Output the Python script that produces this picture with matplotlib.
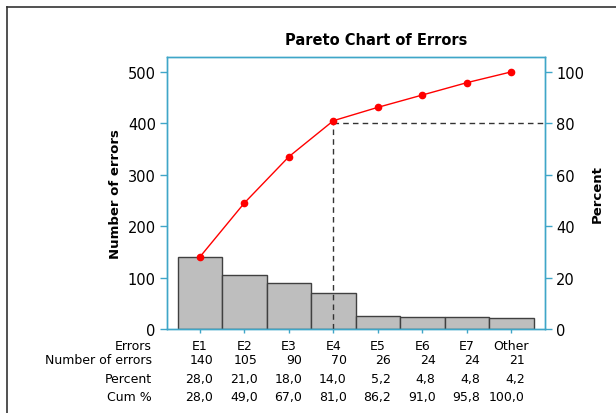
import matplotlib
matplotlib.use("Agg")
import matplotlib.pyplot as plt
from matplotlib.lines import Line2D
import matplotlib.transforms as mtrans
import numpy as np

errors = ["E1", "E2", "E3", "E4", "E5", "E6", "E7", "Other"]
counts = [140, 105, 90, 70, 26, 24, 24, 21]
percent = [28.0, 21.0, 18.0, 14.0, 5.2, 4.8, 4.8, 4.2]
cum_pct = [28.0, 49.0, 67.0, 81.0, 86.2, 91.0, 95.8, 100.0]
cutoff_pct = 80
cutoff_idx = 3

SPINE = "#3fa6c8"
plt.rcParams["font.family"] = ["DejaVu Sans"]

fig = plt.figure(figsize=(6.16, 4.14), dpi=100)
ax = fig.add_axes([0.271, 0.203, 0.614, 0.657])
x = np.arange(len(errors))

ax.bar(x, counts, width=1.0, color="#bebebe", edgecolor="#404040", linewidth=1.0, zorder=2)
ax.set_xlim(-0.74, 7.76)
total = sum(counts)
ax.set_ylim(0, total * 1.058)
ax.set_yticks([0, 100, 200, 300, 400, 500])

ax2 = ax.twinx()
ax2.set_ylim(0, 105.8)
ax2.set_yticks([0, 20, 40, 60, 80, 100])
ax2.plot(x, cum_pct, color="red", lw=1.0, marker="o", ms=4.5, zorder=4)
ax2.plot([x[cutoff_idx], x[cutoff_idx]], [0, cutoff_pct], ls=(0, (4, 3)), color="#333333", lw=1.0)
ax2.plot([x[cutoff_idx], 7.76], [cutoff_pct, cutoff_pct], ls=(0, (4, 3)), color="#333333", lw=1.0,
         clip_on=False)

for a in (ax, ax2):
    for s in a.spines.values():
        s.set_color(SPINE)
        s.set_linewidth(1.0)
    a.tick_params(axis="y", colors=SPINE, labelcolor="black", labelsize=10.5, length=5, width=1, pad=3)
ax.set_xticks(x)
ax.tick_params(axis="x", colors=SPINE, length=3, width=1, labelbottom=False)

ax.set_ylabel("Number of errors", fontsize=9.5, fontweight="bold", labelpad=4)
ax2.set_ylabel("Percent", fontsize=9.5, fontweight="bold", labelpad=5)
fig.text(0.61, 0.903, "Pareto Chart of Errors", ha="center", va="center",
         fontsize=10.5, fontweight="bold")

# table under the chart
tr = mtrans.blended_transform_factory(ax.transData, fig.transFigure)
row_y = [1 - 346 / 414, 1 - 361 / 414, 1 - 380 / 414, 1 - 398 / 414]
row_names = ["Errors", "Number of errors", "Percent", "Cum %"]
for name, yy in zip(row_names, row_y):
    fig.text(152 / 616, yy, name, ha="right", va="center", fontsize=9)
for i in range(len(errors)):
    ax.text(x[i], row_y[0], errors[i], transform=tr, ha="center", va="center", fontsize=9)
    ax.text(x[i] + 0.3, row_y[1], str(counts[i]), transform=tr, ha="right", va="center", fontsize=9)
    ax.text(x[i] + 0.3, row_y[2], f"{percent[i]:.1f}".replace(".", ","), transform=tr,
            ha="right", va="center", fontsize=9)
    ax.text(x[i] + 0.3, row_y[3], f"{cum_pct[i]:.1f}".replace(".", ","), transform=tr,
            ha="right", va="center", fontsize=9)

# outer frame (cropped at right/bottom)
fx, fy = 7 / 616, 1 - 8 / 414
fig.add_artist(Line2D([fx, fx], [0, fy], transform=fig.transFigure, color="#333333", lw=1.2))
fig.add_artist(Line2D([fx, 1], [fy, fy], transform=fig.transFigure, color="#333333", lw=1.2))

fig.savefig("out.png", dpi=100)
